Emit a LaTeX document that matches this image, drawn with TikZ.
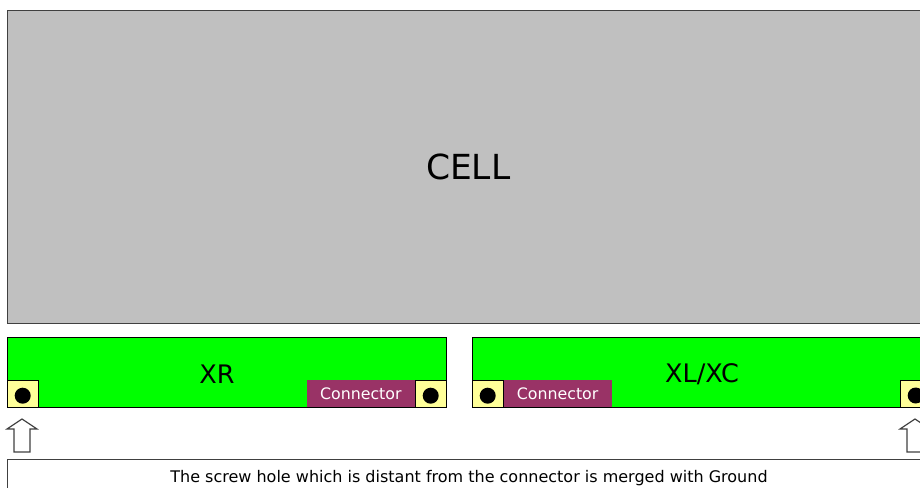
\documentclass[tikz,border=0pt]{standalone}
\usepackage{fontspec}
\setmainfont{DejaVu Sans}
\usetikzlibrary{positioning}
\definecolor{cellgray}{HTML}{C0C0C0}
\definecolor{boardgreen}{HTML}{00FF00}
\definecolor{holeyellow}{HTML}{FFFF99}
\definecolor{connplum}{HTML}{993366}
\definecolor{edgegray}{HTML}{404040}
\tikzset{
 cellbox/.style={draw=edgegray,fill=cellgray,anchor=north west,inner sep=0pt},
 board/.style={draw=black,fill=boardgreen,anchor=north west,minimum height=70pt,inner sep=0pt},
 hole/.style={draw=black,fill=holeyellow,minimum width=31pt,minimum height=27pt,inner sep=0pt},
 conn/.style={fill=connplum,text=white,minimum width=108pt,minimum height=27pt,inner sep=0pt,font=\fontsize{15.8}{15.8}\selectfont},
 boardlabel/.style={font=\fontsize{25.5}{25.5}\selectfont},
 notebox/.style={draw=edgegray,fill=white,anchor=north west,minimum width=930pt,minimum height=40pt,inner sep=0pt},
 pics/uparrow/.style={code={
  \draw[edgegray,fill=white,line width=1.2pt] (-8,33) -- (-8,10) -- (-15,10) -- (0,0) -- (15,10) -- (8,10) -- (8,33) -- cycle;}}
}
\begin{document}
\begin{tikzpicture}[x=1pt,y=-1pt]
 \useasboundingbox (0,0) rectangle (920,487);
 \clip (0,0) rectangle (920,487);
 % cell
 \node[cellbox,minimum width=922pt,minimum height=313pt,font=\fontsize{34.5}{34.5}\selectfont] (cell) at (7,10) {CELL};
 % XR board
 \node[board,minimum width=439pt] (xr) at (7,337) {};
 \node[hole,anchor=south west] (xrholeL) at (xr.south west) {};
 \node[hole,anchor=south east] (xrholeR) at (xr.south east) {};
 \node[conn,anchor=east,text depth=-2pt] (xrconn) at (xrholeR.west) {Connector};
 \fill (xrholeL.center) ++(0,2) circle (8);
 \fill (xrholeR.center) ++(0,2) circle (8);
 \node[boardlabel] (xrlabel) at (217,374) {XR};
 % XL/XC board
 \node[board,minimum width=459pt] (xl) at (472,337) {};
 \node[hole,anchor=south west] (xlholeL) at (xl.south west) {};
 \node[hole,anchor=west] (xlholeR) at (900,393.5) {};
 \node[conn,anchor=west,text depth=-2pt] (xlconn) at (xlholeL.east) {Connector};
 \fill (xlholeL.center) ++(0,2) circle (8);
 \fill (xlholeR.center) ++(0,2) circle (8);
 \node[boardlabel] (xllabel) at (702,374) {XL/XC};
 % arrows
 \pic at (22,419) {uparrow};
 \pic at (915,419) {uparrow};
 % note
 \node[notebox] (note) at (7,459) {};
 \node[font=\fontsize{16}{16}\selectfont] (notetext) at (469,478) {The screw hole which is distant from the connector is merged with Ground};
\end{tikzpicture}
\end{document}
